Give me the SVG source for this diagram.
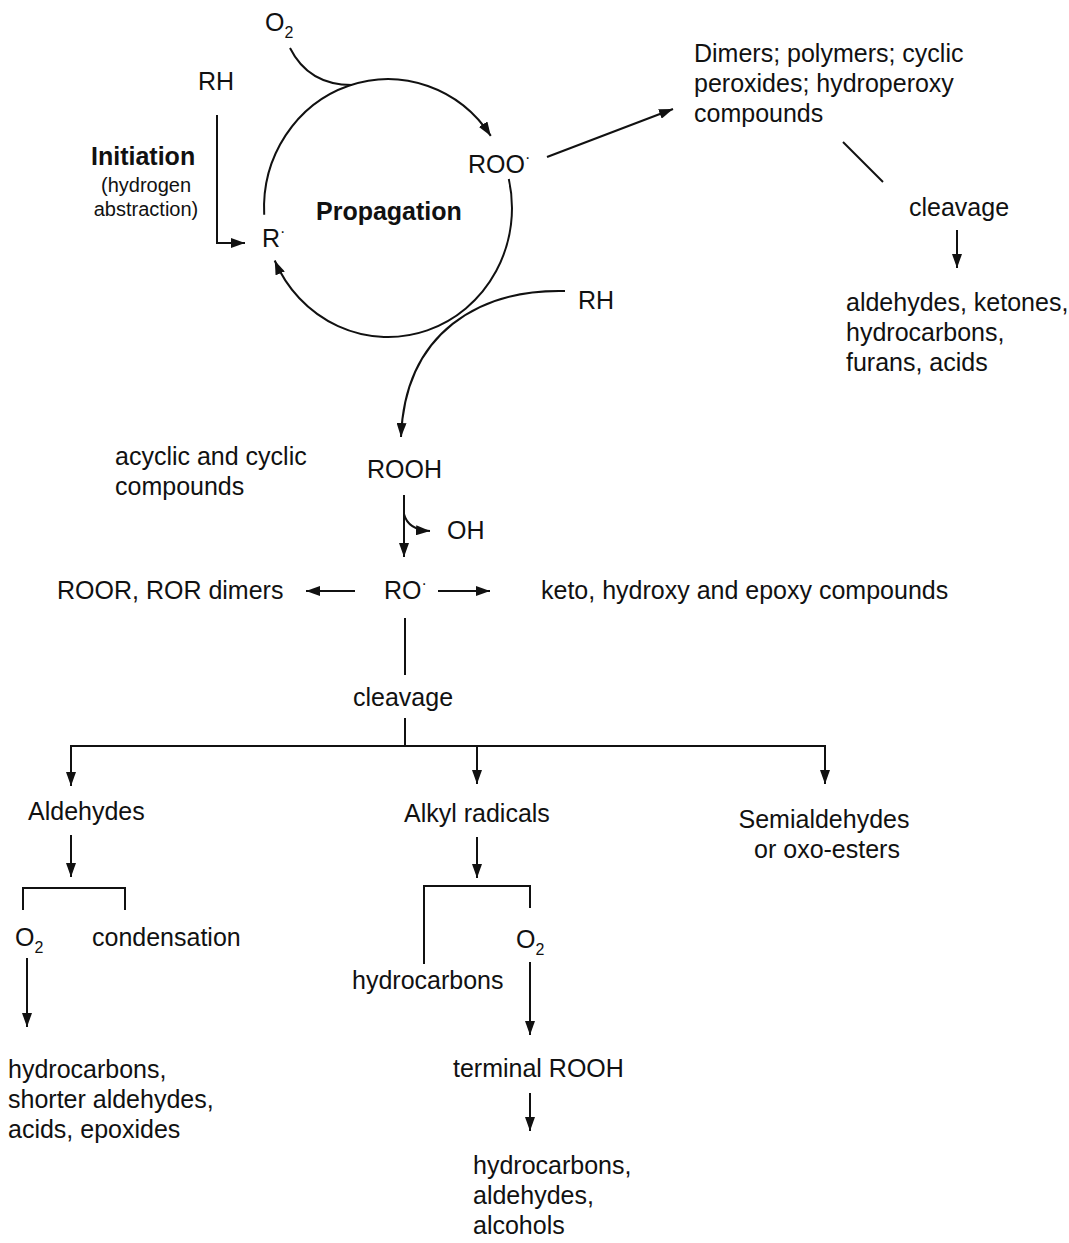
<svg xmlns="http://www.w3.org/2000/svg" width="1069" height="1243" viewBox="0 0 1069 1243">
<style>
text{font-family:"Liberation Sans",Arial,sans-serif;font-size:25px;fill:#111}
.b{font-weight:bold}
.s{font-size:20px}
.sub{font-size:16px}
.ln{fill:none;stroke:#111;stroke-width:2}
.ar{fill:none;stroke:#111;stroke-width:2;marker-end:url(#ah)}
</style>
<defs>
<marker id="ah" viewBox="0 0 14 10" refX="14" refY="5" markerWidth="14" markerHeight="10" markerUnits="userSpaceOnUse" orient="auto">
<path d="M0,0 L14,5 L0,10 z" fill="#111"/>
</marker>
</defs>
<rect width="1069" height="1243" fill="#fff"/>
<g id="connectors">
<path class="ar" d="M264.2,214.7 A124,129 0 0 1 490.8,135.9"/>
<path class="ar" d="M508.8,179 A124,129 0 0 1 274.7,260.5"/>
<path class="ln" d="M290,48 C300,68 318,85 352,85"/>
<path class="ar" d="M565,291 C480,289 405,332 401,437"/>
<path class="ar" d="M217,115 L217,243 L245,243"/>
<path class="ar" d="M547,157 L673,109"/>
<path class="ln" d="M843,142 L883,182"/>
<path class="ar" d="M957,230 L957,268"/>
<path class="ar" d="M404,495 L404,557"/>
<path class="ar" d="M404,514 Q408,530 430,531"/>
<path class="ar" d="M355,591 L306,591"/>
<path class="ar" d="M438,591 L490,591"/>
<path class="ln" d="M405,618 L405,675"/>
<path class="ln" d="M405,718 L405,746"/>
<path class="ln" d="M70,746 L826,746"/>
<path class="ar" d="M71,746 L71,786"/>
<path class="ar" d="M477,746 L477,784"/>
<path class="ar" d="M825,746 L825,784"/>
<path class="ar" d="M71,835 L71,877"/>
<path class="ln" d="M23,910 L23,888 L125,888 L125,910"/>
<path class="ar" d="M27,958 L27,1027"/>
<path class="ar" d="M477,837 L477,878"/>
<path class="ln" d="M424,964 L424,886 L530,886 L530,908"/>
<path class="ar" d="M530,962 L530,1035"/>
<path class="ar" d="M530,1093 L530,1131"/>
</g>
<g id="n-o2-top"><text x="265" y="31">O<tspan class="sub" dy="7">2</tspan></text></g>
<g id="n-rh-top"><text x="198" y="90">RH</text></g>
<g id="n-initiation">
<text class="b" x="91" y="165" font-size="24">Initiation</text>
<text class="s" x="146" y="192" text-anchor="middle">(hydrogen</text>
<text class="s" x="146" y="216" text-anchor="middle">abstraction)</text>
</g>
<g id="n-r"><text x="262" y="247">R<tspan class="sub" dy="-10">·</tspan></text></g>
<g id="n-propagation"><text class="b" x="316" y="220">Propagation</text></g>
<g id="n-roo"><text x="468" y="173">ROO<tspan class="sub" dy="-10">·</tspan></text></g>
<g id="n-dimers">
<text x="694" y="62">Dimers; polymers; cyclic</text>
<text x="694" y="92">peroxides; hydroperoxy</text>
<text x="694" y="122">compounds</text>
</g>
<g id="n-cleavage-top"><text x="909" y="216">cleavage</text></g>
<g id="n-aldehydes-ketones">
<text x="846" y="311">aldehydes, ketones,</text>
<text x="846" y="341">hydrocarbons,</text>
<text x="846" y="371">furans, acids</text>
</g>
<g id="n-rh-right"><text x="578" y="309">RH</text></g>
<g id="n-acyclic">
<text x="115" y="465">acyclic and cyclic</text>
<text x="115" y="495">compounds</text>
</g>
<g id="n-rooh"><text x="367" y="478">ROOH</text></g>
<g id="n-oh"><text x="447" y="539">OH</text></g>
<g id="n-ro"><text x="384" y="599">RO<tspan class="sub" dy="-10">·</tspan></text></g>
<g id="n-roor"><text x="57" y="599">ROOR, ROR dimers</text></g>
<g id="n-keto"><text x="541" y="599">keto, hydroxy and epoxy compounds</text></g>
<g id="n-cleavage-mid"><text x="353" y="706">cleavage</text></g>
<g id="n-aldehydes"><text x="28" y="820">Aldehydes</text></g>
<g id="n-alkyl"><text x="404" y="822">Alkyl radicals</text></g>
<g id="n-semialdehydes">
<text x="824" y="828" text-anchor="middle">Semialdehydes</text>
<text x="827" y="858" text-anchor="middle">or oxo-esters</text>
</g>
<g id="n-o2-left"><text x="15" y="946">O<tspan class="sub" dy="7">2</tspan></text></g>
<g id="n-condensation"><text x="92" y="946">condensation</text></g>
<g id="n-hydro-left">
<text x="8" y="1078">hydrocarbons,</text>
<text x="8" y="1108">shorter aldehydes,</text>
<text x="8" y="1138">acids, epoxides</text>
</g>
<g id="n-hydrocarbons-mid"><text x="352" y="989">hydrocarbons</text></g>
<g id="n-o2-mid"><text x="516" y="948">O<tspan class="sub" dy="7">2</tspan></text></g>
<g id="n-terminal"><text x="453" y="1077">terminal ROOH</text></g>
<g id="n-hydro-bottom">
<text x="473" y="1174">hydrocarbons,</text>
<text x="473" y="1204">aldehydes,</text>
<text x="473" y="1234">alcohols</text>
</g>
</svg>
